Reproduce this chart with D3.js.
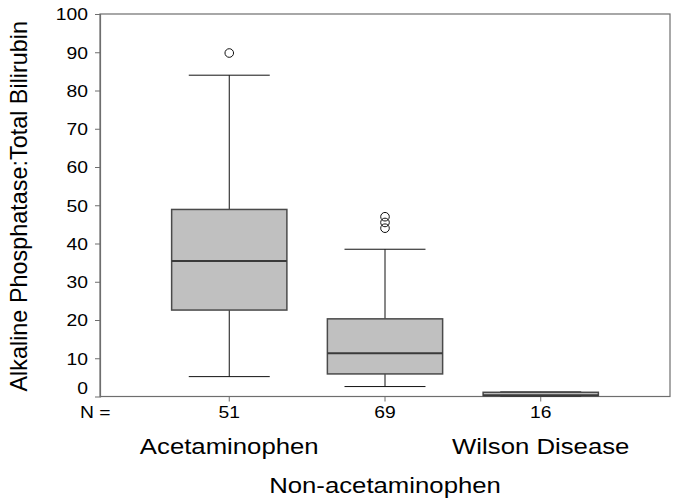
<!DOCTYPE html>
<html>
<head>
<meta charset="utf-8">
<script src="https://cdn.jsdelivr.net/npm/d3@7"></script>
<style>
  html, body { margin: 0; padding: 0; background: #fff; }
  svg { display: block; font-family: "Liberation Sans", Arial, sans-serif; }
</style>
</head>
<body>
<svg id="chart" width="679" height="500"></svg>
<script>
// groups along x, with sample sizes
const groups = ["Acetaminophen", "Non-acetaminophen", "Wilson Disease"];
const counts = [51, 69, 16];

// five-number summaries
const whiskerLow = [5.2, 2.6, 0.1];
const q1 = [22.6, 5.9, 0.2];
const median = [35.4, 11.3, 0.3];
const q3 = [48.9, 20.3, 1.1];
const whiskerHigh = [84.0, 38.5, 1.2];

// outliers: [group index, value]
const outliers = [[0, 89.8], [1, 47.0], [1, 45.5], [1, 44.0]];

const yTicks = [10, 20, 30, 40, 50, 60, 70, 80, 90, 100];

const svg = d3.select("#chart");
const plot = { left: 100, right: 670, top: 14, bottom: 396.5 };
const stretch = 1.17; // the original's text looks a bit wide

const y = d3.scaleLinear().domain([0, 100]).range([plot.bottom, plot.top]);
const x = d3.scalePoint().domain(groups).range([plot.left, plot.right]).padding(0.83);
const step = x.step();
const boxW = step * 0.74;
const capW = step * 0.52;

// frame
svg.append("rect")
  .attr("x", plot.left)
  .attr("y", y(100))
  .attr("width", plot.right - plot.left)
  .attr("height", plot.bottom - y(100))
  .attr("fill", "none")
  .attr("stroke", "#6e6e6e")
  .attr("stroke-width", 1.2);

// y axis
const yAxis = svg.append("g")
  .attr("transform", `translate(${plot.left},0)`)
  .call(d3.axisLeft(y).tickValues(yTicks).tickSize(5).tickFormat(d3.format("d")));
yAxis.select(".domain").attr("stroke", "#6e6e6e").attr("stroke-width", 1.2);
yAxis.selectAll(".tick line").attr("stroke", "#6e6e6e");
yAxis.selectAll(".tick text")
  .attr("x", -12 / stretch)
  .attr("dy", "0.35em")
  .attr("transform", `scale(${stretch},1)`)
  .attr("font-size", 16.5)
  .attr("font-family", "'Liberation Sans', Arial, sans-serif")
  .attr("fill", "#000");

// the zero label sits a little above the axis, without a tick
stretchedText(plot.left - 12, y(0) - 3, "0", 16.5, "end");

// x axis ticks
svg.append("g")
  .selectAll("line")
  .data(groups)
  .join("line")
  .attr("x1", (d) => x(d))
  .attr("x2", (d) => x(d))
  .attr("y1", plot.bottom)
  .attr("y2", plot.bottom + 5)
  .attr("stroke", "#6e6e6e");

// boxes
const boxes = svg.append("g")
  .selectAll("g")
  .data(groups)
  .join("g");

boxes.append("line")
  .attr("x1", (d) => x(d))
  .attr("x2", (d) => x(d))
  .attr("y1", (d, i) => y(whiskerHigh[i]))
  .attr("y2", (d, i) => y(q3[i]))
  .attr("stroke", "#111");
boxes.append("line")
  .attr("x1", (d) => x(d))
  .attr("x2", (d) => x(d))
  .attr("y1", (d, i) => y(q1[i]))
  .attr("y2", (d, i) => y(whiskerLow[i]))
  .attr("stroke", "#111");
boxes.append("line")
  .attr("x1", (d) => x(d) - capW / 2)
  .attr("x2", (d) => x(d) + capW / 2)
  .attr("y1", (d, i) => y(whiskerHigh[i]))
  .attr("y2", (d, i) => y(whiskerHigh[i]))
  .attr("stroke", "#111");
boxes.append("line")
  .attr("x1", (d) => x(d) - capW / 2)
  .attr("x2", (d) => x(d) + capW / 2)
  .attr("y1", (d, i) => y(whiskerLow[i]))
  .attr("y2", (d, i) => y(whiskerLow[i]))
  .attr("stroke", "#111");

boxes.append("rect")
  .attr("x", (d) => x(d) - boxW / 2)
  .attr("y", (d, i) => y(q3[i]))
  .attr("width", boxW)
  .attr("height", (d, i) => y(q1[i]) - y(q3[i]))
  .attr("fill", "#c0c0c0")
  .attr("stroke", "#4a4a4a")
  .attr("stroke-width", 1.5);

boxes.append("line")
  .attr("x1", (d) => x(d) - boxW / 2)
  .attr("x2", (d) => x(d) + boxW / 2)
  .attr("y1", (d, i) => y(median[i]))
  .attr("y2", (d, i) => y(median[i]))
  .attr("stroke", "#3a3a3a")
  .attr("stroke-width", 2);

// outliers
svg.append("g")
  .selectAll("circle")
  .data(outliers)
  .join("circle")
  .attr("cx", (d) => x(groups[d[0]]))
  .attr("cy", (d) => y(d[1]))
  .attr("r", 4.3)
  .attr("fill", "none")
  .attr("stroke", "#111")
  .attr("stroke-width", 1);

// N = row
stretchedText(80, 418, "N =", 16.5, "start");
groups.forEach((g, i) => stretchedText(x(g), 418, String(counts[i]), 16.5, "middle"));

// category labels, staggered
stretchedText(x(groups[0]), 454, groups[0], 22, "middle");
stretchedText(x(groups[2]), 454, groups[2], 22, "middle");
stretchedText(x(groups[1]), 493, groups[1], 22, "middle");

// y title
svg.append("text")
  .attr("transform", `translate(27,${(plot.top + plot.bottom) / 2 + 1}) rotate(-90)`)
  .attr("text-anchor", "middle")
  .attr("font-size", 23.4)
  .attr("fill", "#000")
  .text("Alkaline Phosphatase:Total Bilirubin");

function stretchedText(px, py, label, size, anchor) {
  svg.append("text")
    .attr("transform", `translate(${px},${py}) scale(${stretch},1)`)
    .attr("text-anchor", anchor)
    .attr("font-size", size)
    .attr("fill", "#000")
    .text(label);
}
</script>
</body>
</html>
